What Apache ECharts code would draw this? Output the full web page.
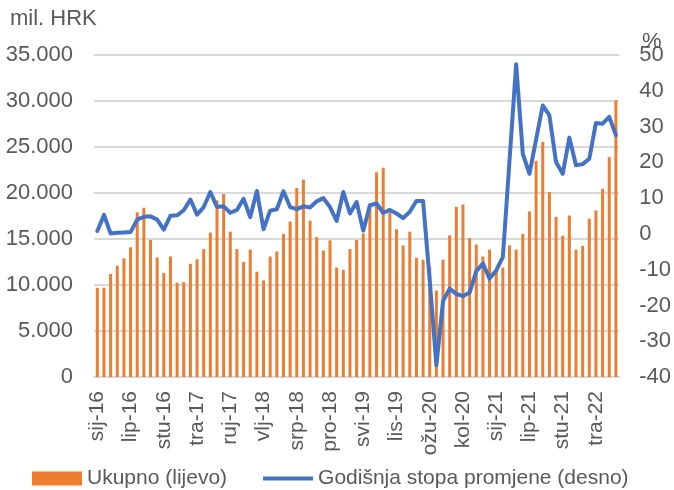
<!DOCTYPE html>
<html>
<head>
<meta charset="utf-8">
<script src="https://cdn.jsdelivr.net/npm/echarts@6/dist/echarts.min.js"></script>
<style>
  html, body { margin: 0; padding: 0; background: #fff; }
  #chart { width: 674px; height: 490px; }
</style>
</head>
<body>
<div id="chart"></div>
<script>
// mjeseci sij-16 .. srp-22
const months = [
  'sij-16','vlj-16','ožu-16','tra-16','svi-16','lip-16','srp-16','kol-16','ruj-16','lis-16','stu-16','pro-16',
  'sij-17','vlj-17','ožu-17','tra-17','svi-17','lip-17','srp-17','kol-17','ruj-17','lis-17','stu-17','pro-17',
  'sij-18','vlj-18','ožu-18','tra-18','svi-18','lip-18','srp-18','kol-18','ruj-18','lis-18','stu-18','pro-18',
  'sij-19','vlj-19','ožu-19','tra-19','svi-19','lip-19','srp-19','kol-19','ruj-19','lis-19','stu-19','pro-19',
  'sij-20','vlj-20','ožu-20','tra-20','svi-20','lip-20','srp-20','kol-20','ruj-20','lis-20','stu-20','pro-20',
  'sij-21','vlj-21','ožu-21','tra-21','svi-21','lip-21','srp-21','kol-21','ruj-21','lis-21','stu-21','pro-21',
  'sij-22','vlj-22','ožu-22','tra-22','svi-22','lip-22','srp-22'
];

// Ukupno, mil. HRK (lijeva os)
const ukupno = [
  9700, 9700, 11200, 12100, 12900, 14100, 17900, 18400, 14900, 13000, 11300, 13100,
  10250, 10300, 12300, 12800, 13900, 15700, 19200, 19900, 15800, 13900, 12500, 13850,
  11450, 10500, 13100, 13650, 15550, 16900, 20550, 21450, 17000, 15200, 13750, 14850,
  11900, 11650, 13900, 14900, 15600, 18250, 22250, 22750, 17900, 16050, 14300, 15800,
  12950, 12750, 12000, 9400, 12750, 15400, 18500, 18750, 15100, 14400, 13100, 13850,
  11600, 11900, 14300, 13850, 15550, 18000, 23500, 25550, 20100, 17400, 15350, 17550,
  13850, 14250, 17200, 18100, 20450, 23900, 30050
];

// godišnja stopa promjene, % (desna os)
const stopa = [
  0.8, 5.3, 0.1, 0.3, 0.4, 0.5, 4.0, 4.8, 4.9, 4.0, 1.2, 5.1,
  5.2, 6.6, 9.6, 5.4, 7.5, 11.7, 7.5, 7.7, 5.9, 6.7, 9.8, 4.7,
  12.0, 1.3, 6.5, 6.9, 11.9, 7.5, 6.9, 7.7, 7.4, 9.1, 10.0, 7.5,
  3.6, 11.7, 5.7, 8.9, 0.9, 8.0, 8.5, 5.9, 6.7, 5.7, 4.4, 6.2,
  9.2, 9.2, -13.0, -36.7, -18.8, -15.3, -16.8, -17.4, -16.4, -10.4, -8.3, -12.5,
  -10.2, -6.5, 20.5, 47.4, 22.4, 16.8, 26.4, 35.9, 33.1, 20.1, 16.8, 26.9,
  19.2, 19.5, 21.0, 31.0, 30.8, 32.7, 27.6
];

const FONT = 'Liberation Sans, Arial, sans-serif';
const TXT = '#595959';

const chart = echarts.init(document.getElementById('chart'));

chart.setOption({
  animation: false,
  textStyle: { fontFamily: FONT },
  grid: { left: 94, right: 54, top: 55, bottom: 113 },
  graphic: [
    { type: 'text', left: 10, top: 8, style: { text: 'mil. HRK', fontSize: 22, fill: TXT, fontFamily: FONT } },
    { type: 'text', left: 642, top: 31, style: { text: '%', fontSize: 22, fill: TXT, fontFamily: FONT } }
  ],
  legend: {
    left: 32,
    top: 468,
    padding: 0,
    itemWidth: 50,
    itemHeight: 14,
    itemGap: 36,
    textStyle: { fontSize: 21, color: TXT, fontFamily: FONT },
    data: [
      { name: 'Ukupno (lijevo)', icon: 'rect' },
      { name: 'Godišnja stopa promjene (desno)', icon: 'path://M0,0L52,0L52,4L0,4Z' }
    ]
  },
  xAxis: {
    type: 'category',
    data: months,
    axisLine: { lineStyle: { color: '#d9d9d9', width: 2 } },
    axisTick: { show: false },
    axisLabel: { interval: 4, rotate: 90, margin: 14, fontSize: 21, color: TXT, fontFamily: FONT }
  },
  yAxis: [
    {
      type: 'value', min: 0, max: 35000, interval: 5000,
      axisLine: { show: false }, axisTick: { show: false },
      splitLine: { lineStyle: { color: '#d9d9d9', width: 2 } },
      axisLabel: {
        margin: 21, fontSize: 22, color: TXT, fontFamily: FONT,
        formatter: v => String(v).replace(/\B(?=(\d{3})+(?!\d))/g, '.')
      }
    },
    {
      type: 'value', min: -40, max: 50, interval: 10,
      axisLine: { show: false }, axisTick: { show: false },
      splitLine: { show: false },
      axisLabel: { margin: 20, fontSize: 22, color: TXT, fontFamily: FONT }
    }
  ],
  series: [
    {
      name: 'Ukupno (lijevo)',
      type: 'bar',
      yAxisIndex: 0,
      data: ukupno,
      barWidth: 3,
      itemStyle: { color: '#ED7D31' }
    },
    {
      name: 'Godišnja stopa promjene (desno)',
      type: 'line',
      yAxisIndex: 1,
      data: stopa,
      symbol: 'none',
      itemStyle: { color: '#4472C4' },
      lineStyle: { color: '#4472C4', width: 4, join: 'round', cap: 'round' }
    }
  ]
});
</script>
</body>
</html>
